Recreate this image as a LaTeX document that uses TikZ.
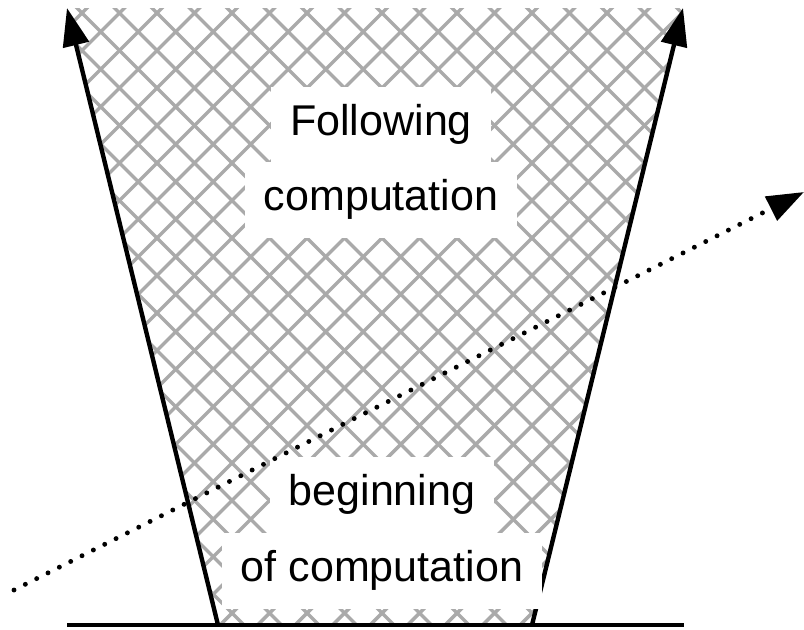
\documentclass[tikz,border=0pt]{standalone}
\usepackage{fontspec}
\setmainfont{Liberation Sans}
\usetikzlibrary{arrows.meta}
\definecolor{hatchgray}{HTML}{AAAAAA}
\tikzset{
  arrowline/.style={line width=2.5pt, -{Triangle[length=0.76cm, width=0.52cm]}},
  hatchline/.style={line width=2pt, hatchgray},
  dotline/.style={line width=2.8pt, line cap=round, dash pattern=on 0pt off 0.254cm,
    -{Triangle[length=0.74cm, width=0.52cm]}},
  textbox/.style={fill=white, inner xsep=0.38cm, inner ysep=0pt, minimum height=1.52cm,
    text height=0.6cm, text depth=0.2cm, font=\fontsize{24.5}{29}\selectfont}
}
\begin{document}
\begin{tikzpicture}[x=0.02cm, y=-0.02cm]
        \useasboundingbox (0, 0) rectangle (804, 629);
        % corners of the cone
        \coordinate (lbot) at (218, 625);
        \coordinate (ltop) at (67, 8);
        \coordinate (rbot) at (532, 625);
        \coordinate (rtop) at (683, 8);
        \coordinate (gleft) at (67, 625);
        \coordinate (gright) at (684, 625);
        \coordinate (dstart) at (14, 590);
        \coordinate (dend) at (804, 192);
        % hatched region
        \begin{scope}
        \clip (lbot) -- (ltop) -- (rtop) -- (rbot) -- cycle;
        \foreach \k in {-16,...,17} {
                \draw[hatchline] ({69+37.5*\k}, 0) -- ++(629, 629);
        }
        \foreach \k in {0,...,34} {
                \draw[hatchline] ({95+37.5*\k}, 0) -- ++(-629, 629);
        }
        \end{scope}
        \draw[line width=2.2pt] (gleft) -- (gright);
        \draw[arrowline] (lbot) -- (ltop);
        \draw[arrowline] (rbot) -- (rtop);
        % labels
        \node[textbox] (follow) at (381, 125) {Following};
        \node[textbox] (comp) at (381, 200) {computation};
        \node[textbox] (begin) at (382, 495) {beginning};
        \node[textbox] (ofcomp) at (382, 571) {of computation};
        \draw[dotline] (dstart) -- (dend);
\end{tikzpicture}
\end{document}
